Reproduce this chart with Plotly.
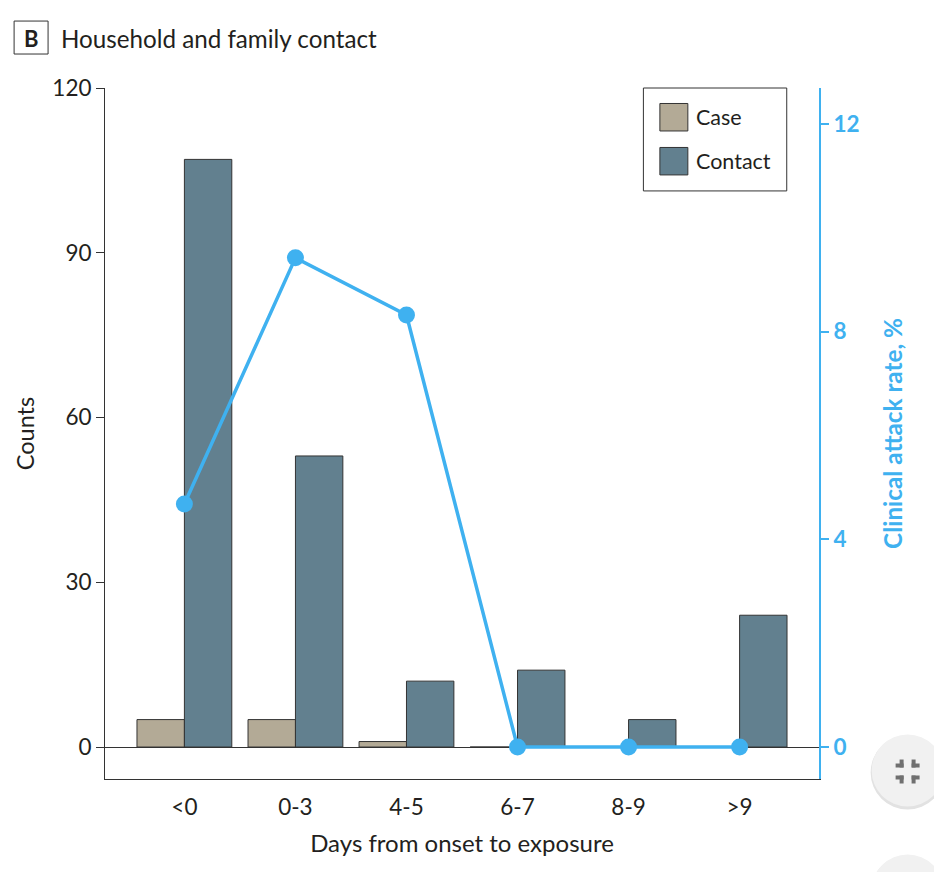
import plotly.graph_objects as go

categories = ["<0", "0-3", "4-5", "6-7", "8-9", ">9"]
case_counts = [5, 5, 1, 0, 0, 0]
contact_counts = [107, 53, 12, 14, 5, 24]
attack_rate = [4.68, 9.42, 8.32, 0, 0, 0]
left_ticks = [0, 30, 60, 90, 120]
right_ticks = [0, 4, 8, 12]

W, H = 934, 872
L, R, T, B = 104.5, 819.3, 88.0, 779.5
FONT = "Lato"
INK = "#231f20"
BLUE = "#3fb1f0"
TAN = "#b3aa96"
SLATE = "#62808f"
EDGE = "#333333"


def px(x):
    return (x - L) / (R - L)


def py(y):
    return (B - y) / (B - T)


def rect(x0, y0, x1, y1, fill, line=None, width=1):
    return dict(type="rect", xref="paper", yref="paper", x0=px(x0), x1=px(x1), y0=py(y1), y1=py(y0),
                fillcolor=fill, line=dict(color=line or fill, width=width if line else 0), layer="above")


def circle(cx, cy, r, fill):
    return dict(type="circle", xref="paper", yref="paper", x0=px(cx - r), x1=px(cx + r), y0=py(cy + r), y1=py(cy - r),
                fillcolor=fill, line=dict(width=0), layer="above")


def text(x, y, s, size=24, anchor="left", color=INK, bold=False):
    return dict(xref="paper", yref="paper", x=px(x), y=py(y), text=f"<b>{s}</b>" if bold else s, showarrow=False,
                xanchor=anchor, yanchor="middle", font=dict(family=FONT, size=size, color=color))


fig = go.Figure()
fig.add_bar(x=categories, y=case_counts, name="Case", marker=dict(color=TAN, line=dict(color=EDGE, width=1)))
fig.add_bar(x=categories, y=contact_counts, name="Contact", marker=dict(color=SLATE, line=dict(color=EDGE, width=1)))
fig.add_scatter(x=categories, y=attack_rate, name="Clinical attack rate, %", yaxis="y2", mode="lines+markers",
                line=dict(color=BLUE, width=3.5), marker=dict(color=BLUE, size=17))

shapes = [
    rect(13.5, 21, 47.5, 54, "white", EDGE, 1),
    rect(643.5, 88, 787, 191, "white", EDGE, 1),
    rect(660, 103.5, 688, 131, TAN, EDGE, 1),
    rect(660, 147.5, 688, 175, SLATE, EDGE, 1),
    circle(908, 773, 37, "#e2e2e2"),
    circle(908, 771, 36, "#f1f1f1"),
    circle(908, 893, 37, "#e2e2e2"),
    circle(908, 891, 36, "#f1f1f1"),
]
for sx, sy in [(-1, -1), (1, -1), (-1, 1), (1, 1)]:
    hx0, hx1 = sorted((908 + sx * 4, 908 + sx * 12))
    hy0, hy1 = sorted((772 + sy * 4, 772 + sy * 8))
    vx0, vx1 = sorted((908 + sx * 4, 908 + sx * 8))
    vy0, vy1 = sorted((772 + sy * 4, 772 + sy * 12))
    shapes.append(rect(hx0, hy0, hx1, hy1, "#707070"))
    shapes.append(rect(vx0, vy0, vx1, vy1, "#707070"))

annotations = [
    text(30.5, 38, "B", size=22, anchor="center", bold=True),
    text(58.5, 38, "Household and family contact", size=24.2),
    text(694, 117.5, "Case", size=21.5),
    text(694, 161.5, "Contact", size=21.5),
]

fig.update_layout(
    width=W, height=H, autosize=False,
    margin=dict(l=L, r=W - R, t=T, b=H - B, pad=0),
    paper_bgcolor="white", plot_bgcolor="white",
    barmode="group", bargap=0.146, bargroupgap=0,
    showlegend=False,
    font=dict(family=FONT, size=23, color=INK),
    shapes=shapes, annotations=annotations,
    xaxis=dict(type="category", range=[-0.715, 5.715], categoryorder="array", categoryarray=categories,
               showgrid=False, zeroline=False, showline=True, linecolor=EDGE, linewidth=1,
               ticks="", ticklabelstandoff=8, tickfont=dict(family=FONT, size=22.5, color=INK),
               title=dict(text="Days from onset to exposure", font=dict(family=FONT, size=24, color=INK), standoff=16)),
    yaxis=dict(range=[-5.82, 120], tickmode="array", tickvals=left_ticks, showgrid=False,
               zeroline=True, zerolinecolor=EDGE, zerolinewidth=1,
               showline=True, linecolor=EDGE, linewidth=1, ticks="outside", ticklen=8, tickcolor=EDGE, tickwidth=1,
               tickfont=dict(family=FONT, size=22.5, color=INK),
               title=dict(text="Counts", font=dict(family=FONT, size=23.5, color=INK), standoff=11)),
    yaxis2=dict(overlaying="y", side="right", range=[-0.616, 12.69], tickmode="array", tickvals=right_ticks,
                showgrid=False, zeroline=False, showline=True, linecolor=BLUE, linewidth=2,
                ticks="outside", ticklen=8, tickcolor=BLUE, tickwidth=2,
                tickfont=dict(family=FONT, size=22.5, color=BLUE, weight="bold"),
                title=dict(text="<b>Clinical attack rate, %</b>", font=dict(family=FONT, size=24.3, color=BLUE), standoff=26)),
)

fig.write_html("out.html", config={"displayModeBar": False},
               post_script="document.body.style.margin='0';document.body.style.overflow='hidden';")
